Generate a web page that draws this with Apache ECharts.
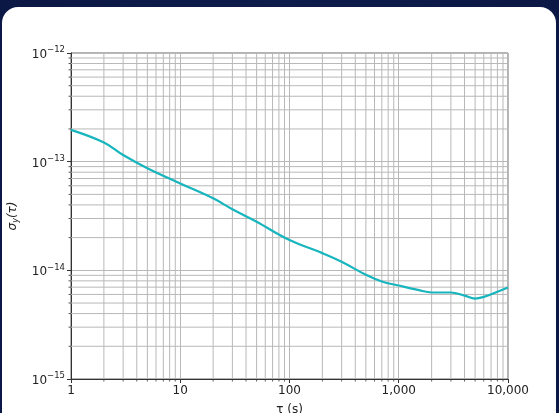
<!DOCTYPE html>
<html>
<head>
<meta charset="utf-8">
<script src="https://cdn.jsdelivr.net/npm/echarts@6/dist/echarts.min.js"></script>
<style>
  html, body { margin: 0; padding: 0; width: 559px; height: 413px; overflow: hidden;
    background: linear-gradient(90deg, #0b1845, #0e1c4c 50%, #0b1845); }
  #card { position: absolute; left: 2px; top: 7px; width: 554px; height: 430px;
    background: #fff; border-radius: 16px; }
  #main { position: absolute; left: 0; top: 0; width: 559px; height: 413px; }
</style>
</head>
<body>
<div id="card"></div>
<div id="main"></div>
<script>
  // averaging time tau (s) and Allan deviation
  var tau = [1, 2, 3, 5, 10, 20, 30, 50, 100, 200, 300, 500, 700, 1000, 1500, 2000, 3000, 4000, 5000, 6000, 8000, 10000];
  var sigma = [1.96e-13, 1.50e-13, 1.15e-13, 8.7e-14, 6.3e-14, 4.6e-14, 3.65e-14, 2.8e-14, 1.9e-14, 1.44e-14, 1.2e-14,
               9.1e-15, 7.9e-15, 7.25e-15, 6.6e-15, 6.25e-15, 6.25e-15, 5.85e-15, 5.5e-15, 5.7e-15, 6.35e-15, 6.95e-15];

  var xMin = 1, xMax = 10000;
  var yMin = 1e-15, yMax = 1e-12;
  var xMinor = [2, 3, 4, 5, 6, 7, 8, 9, 20, 30, 40, 50, 60, 70, 80, 90,
                200, 300, 400, 500, 600, 700, 800, 900, 2000, 3000, 4000, 5000, 6000, 7000, 8000, 9000];
  var yMinor = [2e-15, 3e-15, 4e-15, 5e-15, 6e-15, 7e-15, 8e-15, 9e-15,
                2e-14, 3e-14, 4e-14, 5e-14, 6e-14, 7e-14, 8e-14, 9e-14,
                2e-13, 3e-13, 4e-13, 5e-13, 6e-13, 7e-13, 8e-13, 9e-13];

  var gridColor = '#b8b8b8';
  var tickColor = '#333';

  var chart = echarts.init(document.getElementById('main'), null, { renderer: 'canvas' });

  // minor grid lines + minor ticks drawn through the axes' scales
  function minorX(params, api) {
    var v = api.value(0);
    var p0 = api.coord([v, yMin]);
    var p1 = api.coord([v, yMax]);
    return { type: 'group', children: [
      { type: 'line', shape: { x1: p0[0], y1: p0[1], x2: p1[0], y2: p1[1] }, style: { stroke: gridColor, lineWidth: 1 } },
      { type: 'line', shape: { x1: p0[0], y1: p0[1], x2: p0[0], y2: p0[1] + 2.5 }, style: { stroke: tickColor, lineWidth: 0.8 } }
    ] };
  }
  function minorY(params, api) {
    var v = api.value(1);
    var p0 = api.coord([xMin, v]);
    var p1 = api.coord([xMax, v]);
    return { type: 'group', children: [
      { type: 'line', shape: { x1: p0[0], y1: p0[1], x2: p1[0], y2: p1[1] }, style: { stroke: gridColor, lineWidth: 1 } },
      { type: 'line', shape: { x1: p0[0] - 2.5, y1: p0[1], x2: p0[0], y2: p0[1] }, style: { stroke: tickColor, lineWidth: 0.8 } }
    ] };
  }

  var option = {
    animation: false,
    textStyle: { fontFamily: 'DejaVu Sans' },
    grid: { left: 71, top: 53, right: 51, bottom: 34, outerBoundsMode: 'none', containLabel: false,
      show: true, borderColor: '#666', borderWidth: 1 },
    xAxis: {
      type: 'log', logBase: 10, min: xMin, max: xMax,
      name: 'τ (s)', nameLocation: 'middle', nameGap: 25,
      nameTextStyle: { color: '#222', fontSize: 12, fontFamily: 'DejaVu Sans' },
      axisLine: { show: true, lineStyle: { color: tickColor, width: 1 } },
      axisTick: { show: true, length: 4, lineStyle: { color: tickColor } },
      axisLabel: { color: '#222', fontSize: 12, margin: 6,
        formatter: function (v) { return Math.round(v).toLocaleString('en-US'); } },
      splitLine: { show: true, lineStyle: { color: gridColor, width: 1 } }
    },
    yAxis: {
      type: 'log', logBase: 10, min: yMin, max: yMax,
      name: '{a|σ}{s|y}{a|(τ)}', nameLocation: 'middle', nameGap: 51,
      nameTextStyle: { color: '#222', rich: {
        a: { fontSize: 12, fontFamily: 'DejaVu Sans', fontStyle: 'italic', color: '#222' },
        s: { fontSize: 8, fontFamily: 'DejaVu Sans', fontStyle: 'italic', color: '#222', padding: [6, 0, 0, 0] }
      } },
      axisLine: { show: true, lineStyle: { color: tickColor, width: 1 } },
      axisTick: { show: true, length: 4, lineStyle: { color: tickColor } },
      axisLabel: { color: '#222', margin: 6,
        formatter: function (v) {
          var e = Math.round(Math.log10(v));
          return '{b|10}{e|' + String(e).replace('-', '−') + '}';
        },
        rich: {
          b: { fontSize: 12, fontFamily: 'DejaVu Sans', color: '#222', padding: [4, 0, 0, 0] },
          e: { fontSize: 8.5, fontFamily: 'DejaVu Sans', color: '#222', padding: [0, 0, 6, 0] }
        } },
      splitLine: { show: true, lineStyle: { color: gridColor, width: 1 } }
    },
    series: [
      { type: 'custom', renderItem: minorX, clip: false, silent: true, z: 1,
        data: xMinor.map(function (v) { return [v, yMin]; }) },
      { type: 'custom', renderItem: minorY, clip: false, silent: true, z: 1,
        data: yMinor.map(function (v) { return [xMin, v]; }) },
      { type: 'line', z: 5, smooth: 0.4, showSymbol: false, symbol: 'none',
        lineStyle: { color: '#17b5bd', width: 2.2 },
        data: tau.map(function (t, i) { return [t, sigma[i]]; }) }
    ]
  };
  chart.setOption(option);
</script>
</body>
</html>
